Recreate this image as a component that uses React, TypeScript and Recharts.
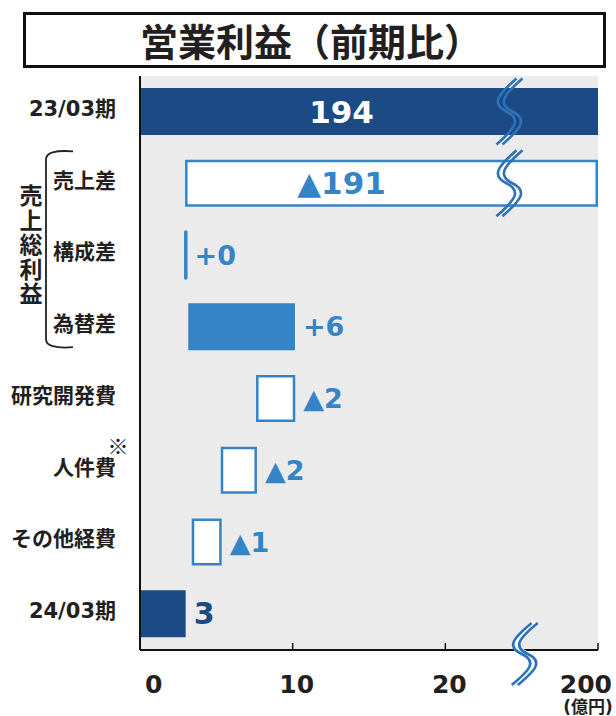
import React from 'react';
import { ComposedChart, Bar, XAxis, YAxis, CartesianGrid } from 'recharts';

// ---------- data ----------
const categories = ['23/03期', '売上差', '構成差', '為替差', '研究開発費', '人件費', 'その他経費', '24/03期'];
// bar extents on the (broken) display axis; 30 = the "200" end of the axis
const barStart = [0, 2.95, 2.95, 3.16, 7.6, 5.29, 3.39, 0];
const barEnd = [30, 30, 3.05, 10.15, 10.17, 7.66, 5.35, 2.99];
const valueLabels = ['194', '▲191', '+0', '+6', '▲2', '▲2', '▲1', '3'];
const kinds = ['total', 'decrease', 'flat', 'increase', 'decrease', 'decrease', 'decrease', 'total'];
const xTicks = [0, 10, 20, 30];
const xTickLabels = ['0', '10', '20', '200'];
const axisMax = 30;
const barBreakAt = 24.2;
const axisBreakAt = 25.2;
const labelCenterAt = 13.2;
const title = '営業利益（前期比）';
const groupLabel = '売上総利益';
const groupRows = ['売上差', '構成差', '為替差'];
const noteRow = '人件費';
const noteMark = '※';
const unitLabel = '(億円)';

// ---------- layout / style ----------
const W = 616;
const H = 716;
const MARGIN = { top: 76, right: 18, bottom: 0, left: 0 };
const X_AXIS_H = 66;
const Y_AXIS_W = 140;
const BAND = (H - MARGIN.top - MARGIN.bottom - X_AXIS_H) / categories.length;

const DARK = '#1b4a85';
const MID = '#3584c7';
const BREAK = '#2e72b8';
const TEXT = '#231f20';
const BG = '#ebebeb';
const FONT = "'DejaVu Sans', 'Noto Sans CJK JP', sans-serif";
const CJK = "'Noto Sans CJK JP', sans-serif";

const data = categories.map((name, i) => ({
  name,
  range: [barStart[i], barEnd[i]],
  label: valueLabels[i],
  kind: kinds[i],
}));

function sPath(cx: number, cy: number, half: number) {
  return `M ${cx + 10} ${cy - half} C ${cx - 8} ${cy - half * 0.52}, ${cx - 16} ${cy - half * 0.24}, ${cx} ${cy} C ${cx + 16} ${cy + half * 0.24}, ${cx + 8} ${cy + half * 0.52}, ${cx - 10} ${cy + half}`;
}

function BreakMark({ cx, cy, half, erase }: { cx: number; cy: number; half: number; erase?: boolean }) {
  return (
    <g>
      {erase && <path d={sPath(cx, cy, half)} stroke="#ffffff" strokeWidth={7} fill="none" />}
      <path d={sPath(cx - 3, cy, half)} stroke={BREAK} strokeWidth={2.6} fill="none" />
      <path d={sPath(cx + 3, cy, half)} stroke={BREAK} strokeWidth={2.6} fill="none" />
    </g>
  );
}

function WaterfallShape(props: any) {
  const { x, y, width, height } = props;
  const p = props.payload || props;
  const [s, e] = p.range;
  const ppu = width / (e - s);
  const broken = e >= axisMax;
  const cy = y + height / 2;
  let bar: React.ReactNode = null;
  if (p.kind === 'total') {
    bar = <rect x={x} y={y} width={width} height={height} fill={DARK} />;
  } else if (p.kind === 'increase') {
    bar = <rect x={x} y={y} width={width} height={height} fill={MID} />;
  } else if (p.kind === 'decrease') {
    bar = (
      <rect x={x + 1.25} y={y + 1.25} width={width - 2.5} height={height - 2.5} fill="#ffffff" stroke={MID} strokeWidth={2.5} />
    );
  } else {
    bar = (
      <line x1={x + width / 2} x2={x + width / 2} y1={y + 0.5} y2={y + height - 0.5} stroke={MID} strokeWidth={3.5} strokeLinecap="round" />
    );
  }
  let label: React.ReactNode;
  if (broken) {
    const lx = x + (labelCenterAt - s) * ppu;
    label = (
      <text x={lx} y={cy} textAnchor="middle" dominantBaseline="central" fontFamily={FONT} fontWeight="bold" fontSize={31} fill={p.kind === 'total' ? '#ffffff' : MID}>
        {p.label}
      </text>
    );
  } else {
    label = (
      <text x={x + width + 8} y={cy} textAnchor="start" dominantBaseline="central" fontFamily={FONT} fontWeight="bold" fontSize={p.kind === 'total' ? 30 : 27} fill={p.kind === 'total' ? DARK : MID}>
        {p.label}
      </text>
    );
  }
  return (
    <g>
      {bar}
      {label}
      {broken && <BreakMark cx={x + (barBreakAt - s) * ppu} cy={cy} half={33} />}
    </g>
  );
}

function XTick(props: any) {
  const { x, y, payload } = props;
  const v = payload.value;
  if (v === axisBreakAt) return <BreakMark cx={x} cy={y + 4} half={31} erase />;
  const i = xTicks.indexOf(v);
  if (i < 0) return null;
  const first = i === 0;
  const last = i === xTicks.length - 1;
  const anchor = first ? 'start' : last ? 'end' : 'middle';
  const tx = first ? x + 5 : last ? x + 14 : x + 4;
  return (
    <g>
      {!first && <line x1={x} x2={x} y1={y} y2={y - 7} stroke="#111" strokeWidth={1.5} />}
      <text x={tx} y={y + 43} textAnchor={anchor} fontFamily={FONT} fontWeight="bold" fontSize={25} fill={TEXT}>
        {xTickLabels[i]}
      </text>
      {last && (
        <text x={x - 10} y={y + 63} textAnchor="middle" fontFamily={FONT} fontWeight="bold" fontSize={17} fill={TEXT}>
          {unitLabel}
        </text>
      )}
    </g>
  );
}

function YTick(props: any) {
  const { x, y, payload } = props;
  const name = payload.value;
  const gi = groupRows.indexOf(name);
  return (
    <g>
      <text x={x} y={y - 3} textAnchor="end" dominantBaseline="central" fontFamily={FONT} fontWeight="bold" fontSize={21} fill={TEXT}>
        {name}
      </text>
      {name === noteRow && (
        <text x={x + 2} y={y - 26} textAnchor="middle" dominantBaseline="central" fontFamily={CJK} fontWeight="bold" fontSize={21} fill={TEXT}>
          {noteMark}
        </text>
      )}
      {gi === 0 && (() => {
        const top = y - 0.45 * BAND;
        const bottom = y + (groupRows.length - 1) * BAND + 0.28 * BAND;
        const lx = x - 70;
        const midY = (y + y + (groupRows.length - 1) * BAND) / 2 - 10;
        return (
          <g>
            <path
              d={`M ${lx + 27} ${top} Q ${lx} ${top - 2} ${lx} ${top + 8} L ${lx} ${bottom - 8} Q ${lx} ${bottom + 2} ${lx + 27} ${bottom}`}
              stroke="#222"
              strokeWidth={1.8}
              fill="none"
            />
            <text
              x={x - 85}
              y={midY}
              textAnchor="middle"
              style={{ writingMode: 'vertical-rl' as any, letterSpacing: '1.5px' }}
              fontFamily={CJK}
              fontWeight="bold"
              fontSize={23}
              fill={TEXT}
            >
              {groupLabel}
            </text>
          </g>
        );
      })()}
    </g>
  );
}

export default function App() {
  return (
    <div style={{ position: 'absolute', left: 0, top: 0, width: W, height: H, background: '#ffffff' }}>
      <div
        style={{
          position: 'absolute',
          left: 23,
          top: 12,
          width: 583,
          height: 56,
          boxSizing: 'border-box',
          border: '3.5px solid #111',
          display: 'flex',
          alignItems: 'center',
          justifyContent: 'center',
          paddingRight: 7,
          fontFamily: CJK,
          fontWeight: 'bold',
          fontSize: 38,
          color: TEXT,
          lineHeight: 1,
        }}
      >
        {title}
      </div>
      <ComposedChart width={W} height={H} data={data} layout="vertical" margin={MARGIN} barCategoryGap={0}>
        <CartesianGrid fill={BG} stroke="none" horizontal={false} vertical={false} />
        <XAxis
          type="number"
          domain={[0, axisMax]}
          ticks={[...xTicks, axisBreakAt]}
          interval={0}
          height={X_AXIS_H}
          tick={<XTick />}
          tickLine={false}
          tickSize={0}
          tickMargin={0}
          axisLine={{ stroke: '#111', strokeWidth: 2 }}
          allowDataOverflow
        />
        <YAxis
          type="category"
          dataKey="name"
          width={Y_AXIS_W}
          interval={0}
          tick={<YTick />}
          tickLine={false}
          tickSize={0}
          tickMargin={24}
          axisLine={{ stroke: '#111', strokeWidth: 2 }}
        />
        <Bar dataKey="range" barSize={47} shape={<WaterfallShape />} isAnimationActive={false} />
      </ComposedChart>
    </div>
  );
}
